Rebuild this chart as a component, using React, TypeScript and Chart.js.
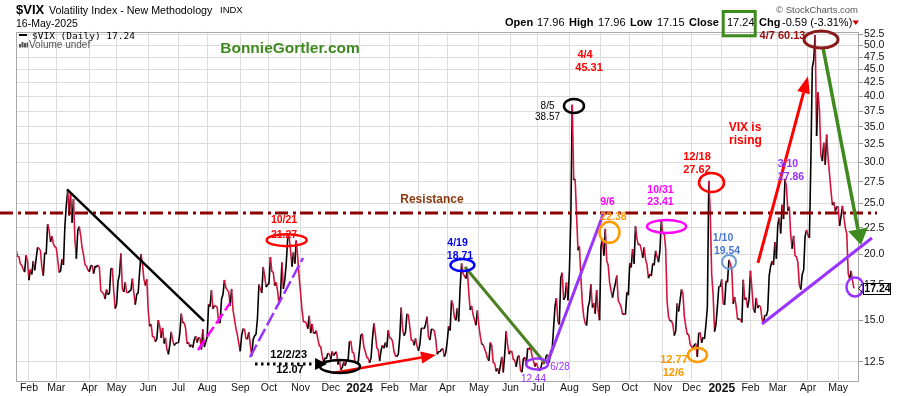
import React, { useEffect, useRef } from "react";
import { Chart, registerables } from "chart.js";

Chart.register(...registerables);

// ---------------- DATA ----------------
const startDate = "2023-01-19";
const marketHolidays = [
  "2023-02-20", "2023-04-07", "2023-05-29", "2023-06-19", "2023-07-04", "2023-09-04", "2023-11-23", "2023-12-25",
  "2024-01-01", "2024-01-15", "2024-02-19", "2024-03-29", "2024-05-27", "2024-06-19", "2024-07-04", "2024-09-02",
  "2024-11-28", "2024-12-25", "2025-01-01", "2025-01-09", "2025-01-20", "2025-02-17", "2025-04-18",
];

// daily closes, 19-Jan-2023 .. 29-Dec-2023
const vixClose2023 = [
  20.52, 19.85, 19.81, 19.2, 19.08, 18.73, 18.51, 19.94, 19.4,
  17.87, 18.73, 18.33, 19.43, 18.66, 19.63, 20.63, 20.53, 20.34, 18.91, 18.23, 20.17, 20.02, 22.87, 22.29, 21.14, 21.67, 20.95, 20.7,
  20.58, 19.59, 18.49, 18.61, 19.59, 19.11, 22.61, 24.8, 26.52, 23.73, 26.14, 22.99, 25.51, 21.38, 19.64, 22.26, 22.61, 21.74, 20.6, 19.97, 19.12, 19.02, 18.7,
  18.55, 19.0, 19.08, 18.4, 18.97, 18.97, 19.09, 18.91, 17.07, 16.95, 16.83, 16.46, 17.16, 16.77, 16.89, 18.76, 18.84, 17.03, 15.78,
  16.08, 17.78, 18.34, 20.09, 17.19, 16.98, 17.71, 16.94, 16.93, 17.03, 17.12, 17.99, 16.87, 16.05, 16.81, 16.91, 18.53, 20.03, 19.14, 17.95, 17.46, 17.94,
  15.65, 14.6, 14.73, 13.96, 13.94, 13.65, 13.83, 15.01, 14.61, 13.88, 14.5, 13.54, 13.88, 13.2, 12.91, 13.44, 14.25, 13.74, 13.43, 13.54, 13.59,
  13.57, 14.18, 15.44, 14.83, 14.84, 14.48, 13.54, 13.61, 13.34, 13.48, 13.3, 13.76, 13.99, 13.6, 13.91, 13.86, 13.19, 14.41, 13.33, 13.63,
  13.93, 16.09, 15.92, 17.1, 15.77, 15.99, 15.96, 15.85, 14.84, 14.82, 16.46, 16.78, 17.89, 17.3, 17.13, 16.97, 15.98, 17.2, 15.68, 15.08, 14.45, 14.09, 13.57,
  13.09, 14.02, 14.45, 14.4, 13.84, 13.8, 14.23, 13.48, 12.82, 13.79, 14.0, 14.11, 15.14, 17.54, 17.2, 16.9, 18.94, 18.22, 17.34, 17.52,
  17.61, 19.78, 18.58, 18.49, 17.45, 17.7, 17.03, 16.09, 16.69, 19.32, 17.21, 17.88, 19.22, 21.4, 21.71, 20.37, 18.97, 20.19, 19.22, 21.27, 19.75, 18.14,
  16.87, 15.66, 14.91, 14.89, 14.81, 14.45, 15.29, 14.17, 14.76, 14.16, 14.18, 14.32, 13.8, 13.41, 13.35, 12.85, 12.46, 12.69, 12.69, 12.98, 12.92,
  12.63, 13.08, 12.85, 12.97, 13.06, 12.35, 12.63, 12.07, 12.19, 12.48, 12.28, 12.56, 12.53, 13.67, 13.65, 13.03, 12.99, 12.43, 12.47, 12.45,
];
const vixClose2024 = [
  13.2, 14.04, 14.13, 13.35, 13.08, 12.76, 12.69, 12.44, 12.7, 13.84, 14.79, 14.13, 13.3, 13.19, 12.55, 13.14, 13.45, 13.26, 13.6, 13.31, 14.35,
  13.88, 13.85, 13.67, 13.06, 12.83, 12.79, 12.93, 13.93, 15.85, 14.38, 14.01, 14.24, 15.42, 15.34, 14.54, 13.75, 13.74, 13.43, 13.84, 13.4,
  13.11, 13.49, 14.46, 14.5, 14.44, 14.74, 15.23, 13.93, 13.75, 14.4, 14.41, 14.33, 13.82, 12.92, 13.06, 13.07, 13.19, 13.24, 12.78, 13.01,
  13.65, 14.61, 14.33, 16.35, 16.03, 15.19, 14.98, 15.8, 14.91, 17.31, 19.23, 18.4, 18.21, 18.0, 18.71, 16.94, 15.69, 15.97, 15.37, 15.03, 14.67, 15.65,
  14.68, 13.99, 13.49, 13.49, 13.23, 13.0, 12.69, 12.55, 13.6, 13.42, 12.45, 12.42, 11.99, 12.15, 11.86, 12.29, 12.77, 11.93, 12.92, 14.28, 13.49, 12.92,
  13.11, 13.06, 12.63, 12.58, 12.22, 12.74, 12.85, 12.04, 11.94, 12.66, 12.75, 12.3, 13.28, 13.2, 13.33, 12.84, 12.55, 12.24, 12.44,
  12.22, 12.03, 12.09, 12.48, 12.37, 12.51, 12.85, 12.89, 12.46, 13.12, 13.19, 14.48, 15.93, 16.52, 14.91, 14.72, 18.04, 18.46, 16.39, 16.6, 17.69, 16.36,
  18.59, 23.39, 38.57, 27.71, 27.85, 23.79, 20.37, 20.71, 18.12, 16.19, 15.23, 14.8, 14.65, 15.88, 16.27, 17.55, 15.86, 16.15, 15.43, 17.11, 15.65, 15.0,
  20.72, 21.32, 19.9, 22.38, 19.45, 19.08, 17.69, 17.07, 16.56, 17.14, 17.61, 18.23, 16.33, 16.15, 15.89, 15.39, 15.41, 15.37, 16.96, 16.73,
  19.26, 18.9, 20.49, 19.21, 22.64, 21.42, 20.86, 20.93, 20.46, 19.7, 20.64, 19.58, 19.11, 18.03, 18.37, 18.2, 19.24, 19.08, 20.33, 19.8, 19.34, 20.35, 23.16,
  21.88, 21.98, 20.49, 16.27, 15.2, 14.94, 14.97, 14.71, 14.02, 14.31, 16.14, 15.58, 16.35, 17.16, 16.87, 15.24, 14.6, 14.1, 14.1, 13.51,
  13.34, 13.3, 13.45, 13.54, 12.77, 14.19, 14.18, 13.58, 13.92, 13.81, 14.69, 15.87, 27.62, 24.09, 18.36, 16.78, 14.27, 14.73, 15.95, 17.4, 17.35,
];
const vixClose2025 = [
  17.93, 16.13, 16.04, 17.82, 17.7, 19.54, 19.19, 18.71, 16.12, 16.6, 15.97, 15.06, 15.1, 15.02, 14.85, 17.9, 16.41, 16.56, 15.84, 16.43,
  18.62, 17.21, 15.77, 15.5, 16.54, 15.81, 16.02, 15.89, 15.1, 14.77, 15.35, 15.27, 15.66, 18.21, 18.98, 19.43, 19.1, 21.13, 19.63,
  22.78, 23.51, 21.93, 24.87, 23.37, 27.86, 26.92, 24.23, 24.66, 21.77, 20.51, 21.7, 19.9, 19.8, 19.28, 17.48, 17.15, 18.33, 18.69, 21.65, 22.28,
  21.77, 21.51, 30.02, 45.31, 46.98, 52.33, 33.62, 40.72, 37.56, 30.89, 30.12, 32.64, 29.65, 33.82, 30.57, 28.45, 26.47, 24.84, 25.15, 24.17, 24.7,
  24.6, 22.68, 23.64, 24.76, 23.55, 22.48, 21.9, 18.39, 17.99, 18.62, 17.83, 17.24,
];

const monthLabels = ["Jan", "Feb", "Mar", "Apr", "May", "Jun", "Jul", "Aug", "Sep", "Oct", "Nov", "Dec"];
const yTickValues = [12.5, 15.0, 17.5, 20.0, 22.5, 25.0, 27.5, 30.0, 32.5, 35.0, 37.5, 40.0, 42.5, 45.0, 47.5, 50.0, 52.5];
const yMin = 11.54;
const yMax = 53.15;
const xMaxIndex = 586.5;
const resistanceLevel = 24.0;
const lastClose = "17.24";
const quoteFields = [
  { label: "Open", value: "17.96", lx: 505, vx: 537 },
  { label: "High", value: "17.96", lx: 569, vx: 598 },
  { label: "Low", value: "17.15", lx: 630, vx: 657 },
  { label: "Close", value: "17.24", lx: 689, vx: 727 },
  { label: "Chg", value: "-0.59 (-3.31%)", lx: 759, vx: 782 },
];

// annotations in data coordinates: i = trading-day index, v = value
const trendLines = [
  { from: { i: 35.5, v: 26.6 }, to: { i: 130.8, v: 14.94 }, color: "#000000", width: 2.5, dash: [] as number[] },
  { from: { i: 126.6, v: 13.16 }, to: { i: 148.9, v: 16.17 }, color: "#ff00ff", width: 2.5, dash: [12, 4] },
  { from: { i: 162.8, v: 12.76 }, to: { i: 199.7, v: 19.7 }, color: "#9933ff", width: 2.5, dash: [14, 4] },
  { from: { i: 312.4, v: 18.94 }, to: { i: 368.0, v: 12.43 }, color: "#4a7f22", width: 3, dash: [] },
  { from: { i: 369.4, v: 12.38 }, to: { i: 409.1, v: 24.1 }, color: "#9933ff", width: 3, dash: [] },
  { from: { i: 519.0, v: 14.75 }, to: { i: 595.5, v: 21.5 }, color: "#9933ff", width: 3, dash: [] },
];
const arrows = [
  { from: { i: 166.3, v: 12.38 }, to: { i: 216.4, v: 12.38 }, color: "#000000", width: 3, dash: [2.5, 3.5], hl: 12, hw: 12 },
  { from: { i: 220.5, v: 11.9 }, to: { i: 292.2, v: 12.88 }, color: "#ff0000", width: 2.5, dash: [] as number[], hl: 15, hw: 12 },
  { from: { i: 516.2, v: 19.28 }, to: { i: 551.0, v: 43.7 }, color: "#ff0000", width: 3, dash: [], hl: 17, hw: 13 },
  { from: { i: 561.5, v: 49.45 }, to: { i: 587.9, v: 20.85 }, color: "#3f8a1f", width: 3.5, dash: [], hl: 16, hw: 20 },
];
const ellipses = [
  { at: { i: 188.3, v: 21.3 }, rx: 20, ry: 6, color: "#ff0000", width: 2.5 },
  { at: { i: 225.4, v: 12.25 }, rx: 20, ry: 6.5, color: "#000000", width: 2.5 },
  { at: { i: 310.6, v: 19.1 }, rx: 12, ry: 6, color: "#0000ff", width: 2.5 },
  { at: { i: 362.5, v: 12.38 }, rx: 11, ry: 5.5, color: "#9933ff", width: 2.5 },
  { at: { i: 388.2, v: 38.35 }, rx: 10, ry: 7, color: "#000000", width: 2.5 },
  { at: { i: 412.9, v: 22.04 }, rx: 10, ry: 10.5, color: "#ff9900", width: 2.5 },
  { at: { i: 452.6, v: 22.62 }, rx: 19.5, ry: 6.5, color: "#ff00ff", width: 2.5 },
  { at: { i: 483.9, v: 27.43 }, rx: 12.5, ry: 9.5, color: "#ff0000", width: 2.5 },
  { at: { i: 474.1, v: 12.88 }, rx: 9.5, ry: 7, color: "#ff9900", width: 2.5 },
  { at: { i: 496.1, v: 19.36 }, rx: 7, ry: 7, color: "#6c9ad6", width: 2 },
  { at: { i: 560.1, v: 51.3 }, rx: 17, ry: 8.5, color: "#8b1a1a", width: 3 },
  { at: { i: 583.7, v: 17.35 }, rx: 8.5, ry: 9.5, color: "#9933ff", width: 2.5 },
];
const notes = [
  { at: { i: 289.4, v: 25.45 }, text: "Resistance", color: "#8b3a10", size: 12, bold: true },
  { at: { i: 186.5, v: 23.27 }, text: "10/21", color: "#ff0000", size: 10.5, bold: true },
  { at: { i: 186.5, v: 21.79 }, text: "21.27", color: "#ff0000", size: 10.5, bold: true },
  { at: { i: 189.7, v: 12.88 }, text: "12/2/23", color: "#000000", size: 11, bold: true },
  { at: { i: 190.6, v: 12.06 }, text: "12.07", color: "#000000", size: 11, bold: true },
  { at: { i: 307.2, v: 21.03 }, text: "4/19", color: "#0000ee", size: 10.5, bold: true },
  { at: { i: 308.9, v: 19.87 }, text: "18.71", color: "#0000ee", size: 10.5, bold: true },
  { at: { i: 378.5, v: 12.22 }, text: "6/28", color: "#9933ff", size: 10, bold: false },
  { at: { i: 360.0, v: 11.59 }, text: "12.44", color: "#9933ff", size: 10, bold: false },
  { at: { i: 369.8, v: 38.35 }, text: "8/5", color: "#000000", size: 10, bold: false },
  { at: { i: 369.8, v: 36.54 }, text: "38.57", color: "#000000", size: 10, bold: false },
  { at: { i: 395.9, v: 47.96 }, text: "4/4", color: "#ff0000", size: 11, bold: true },
  { at: { i: 398.7, v: 45.3 }, text: "45.31", color: "#ff0000", size: 11, bold: true },
  { at: { i: 411.5, v: 25.13 }, text: "9/6", color: "#ff00ff", size: 10.5, bold: true },
  { at: { i: 415.7, v: 23.58 }, text: "22.38", color: "#ff9900", size: 10.5, bold: true },
  { at: { i: 448.4, v: 26.54 }, text: "10/31", color: "#ff00ff", size: 10.5, bold: true },
  { at: { i: 448.4, v: 25.13 }, text: "23.41", color: "#ff00ff", size: 10.5, bold: true },
  { at: { i: 473.8, v: 30.67 }, text: "12/18", color: "#ff0000", size: 11, bold: true },
  { at: { i: 473.8, v: 29.03 }, text: "27.62", color: "#ff0000", size: 11, bold: true },
  { at: { i: 457.8, v: 12.6 }, text: "12.77", color: "#ff9900", size: 11, bold: true },
  { at: { i: 457.4, v: 11.9 }, text: "12/6", color: "#ff9900", size: 11, bold: true },
  { at: { i: 491.9, v: 21.45 }, text: "1/10", color: "#4a78d8", size: 10.5, bold: true },
  { at: { i: 494.7, v: 20.31 }, text: "19.54", color: "#4a78d8", size: 10.5, bold: true },
  { at: { i: 507.2, v: 34.9 }, text: "VIX is", color: "#ff0000", size: 12, bold: true },
  { at: { i: 507.5, v: 32.96 }, text: "rising", color: "#ff0000", size: 12, bold: true },
  { at: { i: 537.1, v: 29.74 }, text: "3/10", color: "#9933ff", size: 10.5, bold: true },
  { at: { i: 539.2, v: 28.03 }, text: "27.86", color: "#9933ff", size: 10.5, bold: true },
  { at: { i: 533.3, v: 52.1 }, text: "4/7 60.13", color: "#990a0a", size: 11, bold: true },
];

// ---------------- HELPERS ----------------
const SANS = '"Liberation Sans", Arial, sans-serif';
const font = (size: number, bold = false, fam = SANS) => `${bold ? "bold " : ""}${size}px ${fam}`;

function buildTradingDates(count: number): string[] {
  const hol = new Set(marketHolidays);
  const out: string[] = [];
  let t = Date.parse(startDate + "T00:00:00Z");
  while (out.length < count) {
    const d = new Date(t);
    const wd = d.getUTCDay();
    const s = d.toISOString().slice(0, 10);
    if (wd !== 0 && wd !== 6 && !hol.has(s)) out.push(s);
    t += 86400000;
  }
  return out;
}

function drawArrow(ctx: CanvasRenderingContext2D, x1: number, y1: number, x2: number, y2: number, color: string, w: number, dash: number[], hl: number, hw: number) {
  const a = Math.atan2(y2 - y1, x2 - x1);
  const bx = x2 - hl * Math.cos(a);
  const by = y2 - hl * Math.sin(a);
  ctx.save();
  ctx.strokeStyle = color;
  ctx.fillStyle = color;
  ctx.lineWidth = w;
  ctx.setLineDash(dash);
  ctx.beginPath();
  ctx.moveTo(x1, y1);
  ctx.lineTo(bx, by);
  ctx.stroke();
  ctx.setLineDash([]);
  ctx.beginPath();
  ctx.moveTo(x2, y2);
  ctx.lineTo(bx + (hw / 2) * Math.sin(a), by - (hw / 2) * Math.cos(a));
  ctx.lineTo(bx - (hw / 2) * Math.sin(a), by + (hw / 2) * Math.cos(a));
  ctx.closePath();
  ctx.fill();
  ctx.restore();
}

const overlayPlugin = {
  id: "overlay",
  beforeDraw(chart: any) {
    const ctx = chart.ctx as CanvasRenderingContext2D;
    ctx.save();
    ctx.fillStyle = "#ffffff";
    ctx.fillRect(0, 0, chart.width, chart.height);
    ctx.restore();
  },
  afterDraw(chart: any) {
    const ctx = chart.ctx as CanvasRenderingContext2D;
    const xs = chart.scales.x;
    const ys = chart.scales.y;
    const X = (i: number) => xs.getPixelForValue(i);
    const Y = (v: number) => ys.getPixelForValue(v);
    const ca = chart.chartArea;

    ctx.save();
    // frame
    ctx.strokeStyle = "#a8a8a8";
    ctx.lineWidth = 1;
    ctx.strokeRect(Math.round(ca.left) + 0.5, Math.round(ca.top) + 0.5, Math.round(ca.right - ca.left) - 1, Math.round(ca.bottom - ca.top));

    // header
    ctx.textBaseline = "alphabetic";
    ctx.textAlign = "left";
    ctx.fillStyle = "#000";
    ctx.font = font(13, true);
    ctx.fillText("$VIX", 16, 13.5);
    ctx.font = font(10.7);
    ctx.fillText("Volatility Index - New Methodology", 49, 13.5);
    ctx.font = font(9.5);
    ctx.fillText("INDX", 220, 13);
    ctx.font = font(10.5);
    ctx.fillText("16-May-2025", 16, 27);

    ctx.fillStyle = "#555";
    ctx.font = font(9.5);
    ctx.textAlign = "right";
    ctx.fillText("\u00A9 StockCharts.com", 858, 13);
    ctx.textAlign = "left";
    ctx.fillStyle = "#000";
    for (const q of quoteFields) {
      ctx.font = font(11, true);
      ctx.fillText(q.label, q.lx, 26);
      ctx.font = font(11);
      ctx.fillText(q.value, q.vx, 26);
    }
    ctx.fillStyle = "#cc0000";
    ctx.beginPath();
    ctx.moveTo(852.5, 20.5);
    ctx.lineTo(859, 20.5);
    ctx.lineTo(855.75, 25);
    ctx.closePath();
    ctx.fill();
    ctx.strokeStyle = "#3c8c1c";
    ctx.lineWidth = 3;
    ctx.strokeRect(723.2, 11.5, 32, 24.3);

    // legend
    ctx.strokeStyle = "#000";
    ctx.lineWidth = 2;
    ctx.beginPath();
    ctx.moveTo(19, 35);
    ctx.lineTo(27, 35);
    ctx.stroke();
    ctx.fillStyle = "#000";
    ctx.font = font(9.5, false, '"DejaVu Sans Mono", monospace');
    ctx.fillText("$VIX (Daily) " + lastClose, 32, 38.5);
    ctx.fillStyle = "#555";
    [[19, 44, 2, 3.5], [21.5, 42, 2, 5.5], [24, 43, 2, 4.5], [26.5, 42.5, 1.5, 5]].forEach(([x, y, w, h]) => ctx.fillRect(x, y, w, h));
    ctx.font = font(10);
    ctx.fillText("Volume undef", 29, 48);

    ctx.fillStyle = "#3f8a1f";
    ctx.font = font(15.5, true);
    ctx.textAlign = "center";
    ctx.fillText("BonnieGortler.com", 290, 53);

    // resistance
    ctx.strokeStyle = "#8b0000";
    ctx.lineWidth = 3;
    ctx.setLineDash([13, 5, 3, 4]);
    ctx.beginPath();
    const ry = Y(resistanceLevel);
    ctx.moveTo(0, ry);
    ctx.lineTo(ca.right + 18, ry);
    ctx.stroke();
    ctx.setLineDash([]);

    // trend lines
    ctx.lineCap = "butt";
    for (const t of trendLines) {
      ctx.strokeStyle = t.color;
      ctx.lineWidth = t.width;
      ctx.setLineDash(t.dash);
      ctx.beginPath();
      ctx.moveTo(X(t.from.i), Y(t.from.v));
      ctx.lineTo(X(t.to.i), Y(t.to.v));
      ctx.stroke();
    }
    ctx.setLineDash([]);
    for (const a of arrows) {
      drawArrow(ctx, X(a.from.i), Y(a.from.v), X(a.to.i), Y(a.to.v), a.color, a.width, a.dash, a.hl, a.hw);
    }
    for (const e of ellipses) {
      ctx.strokeStyle = e.color;
      ctx.lineWidth = e.width;
      ctx.beginPath();
      ctx.ellipse(X(e.at.i), Y(e.at.v), e.rx, e.ry, 0, 0, Math.PI * 2);
      ctx.stroke();
    }
    ctx.textAlign = "center";
    ctx.textBaseline = "middle";
    for (const n of notes) {
      ctx.fillStyle = n.color;
      ctx.font = font(n.size, n.bold);
      ctx.fillText(n.text, X(n.at.i), Y(n.at.v));
    }

    // last value box
    const ly = Y(parseFloat(lastClose));
    ctx.fillStyle = "#fff";
    ctx.fillRect(863, ly - 5.5, 28, 11);
    ctx.strokeStyle = "#000";
    ctx.lineWidth = 1;
    ctx.strokeRect(863.5, Math.round(ly - 5.5) + 0.5, 27, 11);
    ctx.beginPath();
    ctx.moveTo(862.5, ly - 4.5);
    ctx.lineTo(858.5, ly);
    ctx.lineTo(862.5, ly + 4.5);
    ctx.stroke();
    ctx.fillStyle = "#000";
    ctx.font = font(10.5, true);
    ctx.fillText(lastClose, 877.5, ly + 0.5);
    ctx.restore();
  },
};

export default function App() {
  const ref = useRef<HTMLCanvasElement>(null);
  useEffect(() => {
    document.body.style.margin = "0";
    const values = [...vixClose2023, ...vixClose2024, ...vixClose2025];
    const dates = buildTradingDates(values.length);
    const monthTicks: { value: number; label: string }[] = [];
    for (let i = 1; i < dates.length; i++) {
      if (dates[i].slice(5, 7) !== dates[i - 1].slice(5, 7)) {
        const mi = parseInt(dates[i].slice(5, 7), 10) - 1;
        monthTicks.push({ value: i, label: mi === 0 ? dates[i].slice(0, 4) : monthLabels[mi] });
      }
    }
    const tickLabel = new Map(monthTicks.map((t) => [t.value, t.label]));

    const chart = new Chart(ref.current as HTMLCanvasElement, {
      type: "line",
      data: {
        datasets: [
          {
            data: values.map((v, i) => ({ x: i, y: v })),
            borderWidth: 1.6,
            borderColor: "#000",
            pointRadius: 0,
            tension: 0,
            segment: {
              borderColor: (c: any) => (c.p1.parsed.y >= c.p0.parsed.y ? "#000000" : "#d4143c"),
            },
          },
        ],
      },
      options: {
        animation: false,
        responsive: false,
        devicePixelRatio: 1,
        events: [],
        layout: { padding: { left: 16, top: 31.5, right: 0, bottom: 0 } },
        plugins: { legend: { display: false }, tooltip: { enabled: false } },
        scales: {
          x: {
            type: "linear",
            min: 0,
            max: xMaxIndex,
            bounds: "data",
            afterBuildTicks: (s: any) => {
              s.ticks = monthTicks.map((t) => ({ value: t.value }));
            },
            afterFit: (s: any) => {
              s.height = 16;
            },
            grid: { color: "#dcdcdc", drawTicks: false, lineWidth: 1 },
            border: { display: false },
            ticks: {
              autoSkip: false,
              maxRotation: 0,
              padding: 1.5,
              color: "#111",
              callback: (v: any) => tickLabel.get(Number(v)) ?? "",
              font: (c: any) =>
                c.tick && /^\d{4}$/.test(String(c.tick.label))
                  ? { family: SANS, size: 12, weight: "bold" }
                  : { family: SANS, size: 10.5 },
            },
          },
          y: {
            type: "logarithmic",
            position: "right",
            min: yMin,
            max: yMax,
            bounds: "data",
            afterBuildTicks: (s: any) => {
              s.ticks = yTickValues.map((v) => ({ value: v }));
            },
            afterFit: (s: any) => {
              s.width = 41;
            },
            grid: { color: "#dcdcdc", tickLength: 4, tickColor: "#999" },
            border: { display: false },
            ticks: {
              autoSkip: false,
              padding: 1,
              color: "#111",
              font: { family: SANS, size: 10.5 },
              callback: (v: any) => Number(v).toFixed(1),
            },
          },
        },
      } as any,
      plugins: [overlayPlugin],
    });
    return () => chart.destroy();
  }, []);
  return <canvas ref={ref} width={900} height={396} style={{ display: "block" }} />;
}
